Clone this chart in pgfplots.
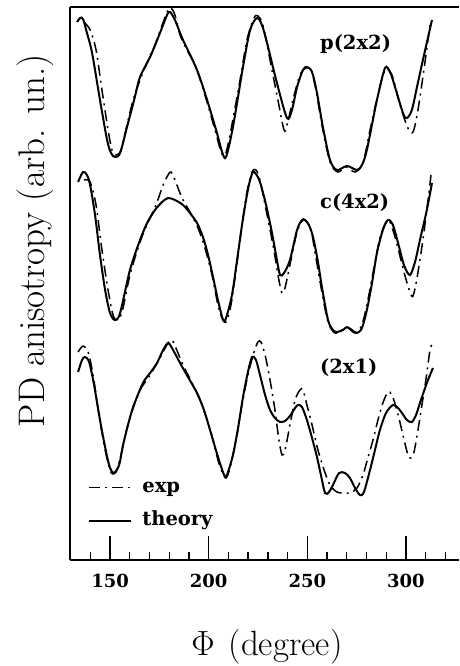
\RequirePackage{fix-cm}
\documentclass[border=0pt]{standalone}
\usepackage{fontspec}
\usepackage{pgfplots}
\pgfplotsset{compat=1.18}
\newfontfamily\dvs{DejaVu Serif}
\begin{document}
\begin{tikzpicture}
\useasboundingbox (-70pt,-106pt) rectangle (389pt,560pt);
\begin{axis}[
  scale only axis, width=389pt, height=553pt,
  at={(0pt,0pt)}, anchor=south west,
  xmin=129.7, xmax=326.9, ymin=0, ymax=553,
  axis x line*=box, axis y line*=left,
  axis line style={line width=2pt, black},
  xtick={150,200,250,300}, minor xtick={130,140,...,320},
  xtick pos=left, ytick=\empty,
  tick align=inside,
  major tick length=24pt, minor tick length=8pt,
  every tick/.style={black, line width=1.3pt},
  /pgf/number format/assume math mode=true,
  xticklabel style={font=\fontsize{18}{18}\selectfont\dvs\bfseries, anchor=base, yshift=-27.5pt, inner sep=0pt},
  xlabel={$\Phi$\hspace{14pt}{\addfontfeatures{LetterSpace=18}(degree)}},
  xlabel style={at={(axis description cs:0.506,-0.1718)}, anchor=base, inner sep=0pt, font=\fontsize{35}{35}\selectfont},
  ylabel={PD anisotropy (arb. un.)},
  ylabel style={at={(axis description cs:-0.0668,0.577)}, anchor=base, inner sep=0pt, font=\fontsize{37}{37}\selectfont},
  legend style={at={(axis cs:138.9,84)}, anchor=north west, draw=none, fill=none, inner sep=0pt,
    font=\fontsize{19.5}{19.5}\selectfont\dvs\bfseries, row sep=10pt,
    nodes={inner sep=2pt, text height=14pt, text depth=5pt},
    /tikz/every odd column/.append style={column sep=8pt}},
  legend cell align=left,
  legend image code/.code={\draw[#1] (0pt,0pt) -- (42pt,0pt);},
  theory/.style={black, line width=2pt, smooth, tension=0.5},
  exper/.style={black, line width=1.5pt, smooth, tension=0.5, dash pattern=on 11pt off 5pt on 2pt off 5pt},
]
% ---------- p(2x2) ----------
\addplot[exper] coordinates {(136.8,538)(139.9,530)(142.9,510)(145.9,470)(149.0,430)(151.0,410)(153.0,405)(155.6,410)(158.6,435)(161.7,460)(165.2,480)(169.3,500)(172.8,515)(176.4,535)(179.4,550)(180.9,552)(182.9,545)(185.5,525)(189.0,510)(193.1,495)(198.1,465)(203.2,430)(206.3,408)(208.3,405)(210.8,425)(215.9,480)(219.4,520)(223.0,542)(225.0,544)(227.5,535)(231.1,500)(235.1,460)(238.2,430)(239.7,435)(242.7,460)(246.3,485)(249.3,492)(251.9,490)(254.4,470)(257.4,435)(261.5,398)(265.5,388)(269.6,393)(274.2,388)(278.2,397)(281.8,430)(285.8,465)(289.4,490)(292.9,485)(297.0,455)(301.0,432)(303.6,428)(306.1,450)(309.1,490)(312.2,535)};
\addlegendentry{exp}
\addplot[theory] coordinates {(133.3,538)(134.8,542)(136.3,541)(138.3,527)(140.9,507)(144.9,460)(148.5,420)(150.5,407)(152.5,403)(155.1,407)(158.6,433)(162.2,460)(165.2,483)(170.3,503)(175.3,527)(178.9,545)(180.4,548)(182.9,540)(187.0,520)(194.1,490)(199.2,460)(204.2,427)(206.8,408)(208.8,403)(212.3,433)(217.4,493)(221.0,530)(224.5,542)(227.0,535)(229.6,517)(234.6,477)(239.7,442)(242.2,450)(244.8,473)(247.8,490)(249.8,493)(252.4,488)(254.9,467)(257.9,433)(261.5,400)(265.0,390)(270.1,394)(275.2,390)(277.7,395)(280.2,410)(285.3,460)(289.4,492)(291.9,488)(293.4,480)(298.5,447)(300.5,442)(303.0,450)(305.6,473)(308.6,500)(313.2,540)};
\addlegendentry{theory}
% ---------- c(4x2) ----------
\addplot[exper, forget plot] coordinates {(136.8,380)(139.9,378)(142.9,355)(145.9,310)(149.0,270)(151.5,245)(153.5,240)(156.1,248)(160.1,285)(165.2,318)(169.3,338)(173.3,355)(176.9,375)(179.4,385)(180.9,388)(182.9,380)(186.5,362)(190.5,348)(194.6,332)(198.1,312)(201.7,285)(204.7,255)(206.8,242)(208.8,238)(211.3,255)(213.9,290)(216.9,335)(219.4,368)(222.0,388)(224.0,390)(226.0,380)(229.1,350)(232.6,315)(235.6,280)(237.2,267)(238.7,272)(241.7,300)(244.8,328)(247.8,340)(249.8,338)(251.9,330)(254.4,302)(257.4,268)(260.5,238)(264.0,227)(267.6,230)(270.6,232)(274.2,227)(277.7,235)(280.7,260)(283.8,292)(286.8,322)(289.9,338)(291.9,338)(294.9,320)(299.0,288)(302.0,268)(303.6,264)(305.6,282)(308.6,320)(311.2,360)(312.7,385)};
\addplot[theory, forget plot] coordinates {(133.8,378)(136.3,388)(138.3,385)(139.9,375)(142.4,345)(144.9,305)(147.5,270)(150.0,247)(152.5,240)(155.1,247)(160.1,290)(165.2,320)(168.8,337)(172.8,350)(176.4,358)(179.4,362)(182.9,360)(187.0,355)(190.5,347)(194.1,337)(197.1,323)(199.7,305)(202.2,283)(204.7,260)(207.3,240)(208.8,242)(211.8,265)(214.4,300)(216.9,335)(219.4,365)(221.0,380)(222.5,388)(224.0,386)(226.0,378)(229.1,355)(232.1,327)(234.6,300)(236.2,285)(238.2,287)(241.2,300)(244.8,330)(247.3,340)(248.8,340)(250.8,335)(252.9,323)(255.4,298)(257.4,273)(260.5,240)(263.0,230)(265.0,228)(268.1,230)(270.1,233)(272.6,230)(275.2,227)(277.7,232)(280.2,250)(282.8,277)(285.3,307)(288.3,330)(290.9,340)(293.4,335)(296.0,317)(299.0,295)(302.0,285)(304.6,298)(307.1,320)(310.6,350)(313.2,377)};
% ---------- (2x1) ----------
\addplot[exper, forget plot] coordinates {(133.8,208)(136.3,214)(138.9,208)(141.4,185)(144.4,145)(147.5,110)(150.0,90)(151.5,86)(153.5,90)(156.1,110)(158.6,132)(161.7,152)(165.2,170)(169.3,182)(173.3,195)(176.9,208)(179.4,217)(181.4,220)(183.4,212)(187.0,195)(191.6,177)(195.6,160)(199.2,140)(202.2,120)(204.7,100)(206.8,88)(208.8,82)(210.8,92)(213.9,120)(216.9,155)(219.9,185)(223.0,208)(225.0,218)(226.5,218)(228.6,205)(231.1,180)(233.6,150)(235.6,120)(237.2,105)(238.7,110)(241.2,135)(243.8,160)(246.3,170)(247.8,170)(249.8,155)(252.4,135)(255.4,110)(258.5,90)(261.5,75)(265.0,68)(268.1,67)(271.6,67)(275.2,72)(278.2,85)(280.7,102)(283.3,120)(285.8,140)(288.3,157)(290.9,168)(292.9,165)(295.4,150)(298.5,125)(301.0,105)(302.5,102)(304.1,108)(306.1,130)(308.1,155)(310.1,180)(312.2,210)(313.2,215)};
\addplot[theory, forget plot] coordinates {(133.8,188)(135.8,200)(137.3,203)(139.4,198)(141.9,175)(144.9,140)(148.0,108)(150.0,92)(152.0,87)(154.6,95)(156.6,115)(159.1,135)(161.7,153)(166.7,177)(170.3,187)(173.8,197)(176.9,210)(179.4,217)(181.4,212)(185.5,197)(189.5,183)(194.1,167)(197.6,150)(200.7,130)(203.2,113)(205.7,97)(208.3,83)(209.8,88)(212.3,105)(214.9,132)(217.4,163)(219.9,188)(222.0,203)(224.0,200)(226.0,185)(228.6,165)(231.1,150)(233.6,142)(236.2,138)(238.7,139)(241.2,144)(243.8,152)(245.3,155)(247.3,153)(249.8,140)(252.4,122)(254.9,103)(256.9,85)(259.0,67)(261.0,68)(263.0,75)(266.1,87)(269.1,87)(271.6,82)(274.2,72)(276.7,65)(278.7,68)(281.8,90)(284.3,110)(286.8,130)(289.9,147)(293.4,155)(296.0,152)(298.0,147)(300.5,140)(303.0,138)(305.1,145)(307.1,157)(310.6,177)(313.7,192)};
% ---------- labels ----------
\node[anchor=west, inner sep=0pt, font=\fontsize{19.5}{19.5}\selectfont\dvs\bfseries] at (axis cs:256.4,516) {p(2x2)};
\node[anchor=west, inner sep=0pt, font=\fontsize{19.5}{19.5}\selectfont\dvs\bfseries] at (axis cs:256.4,357) {c(4x2)};
\node[anchor=west, inner sep=0pt, font=\fontsize{19.5}{19.5}\selectfont\dvs\bfseries] at (axis cs:256.4,192) {(2x1)};
\end{axis}
\end{tikzpicture}
\end{document}
